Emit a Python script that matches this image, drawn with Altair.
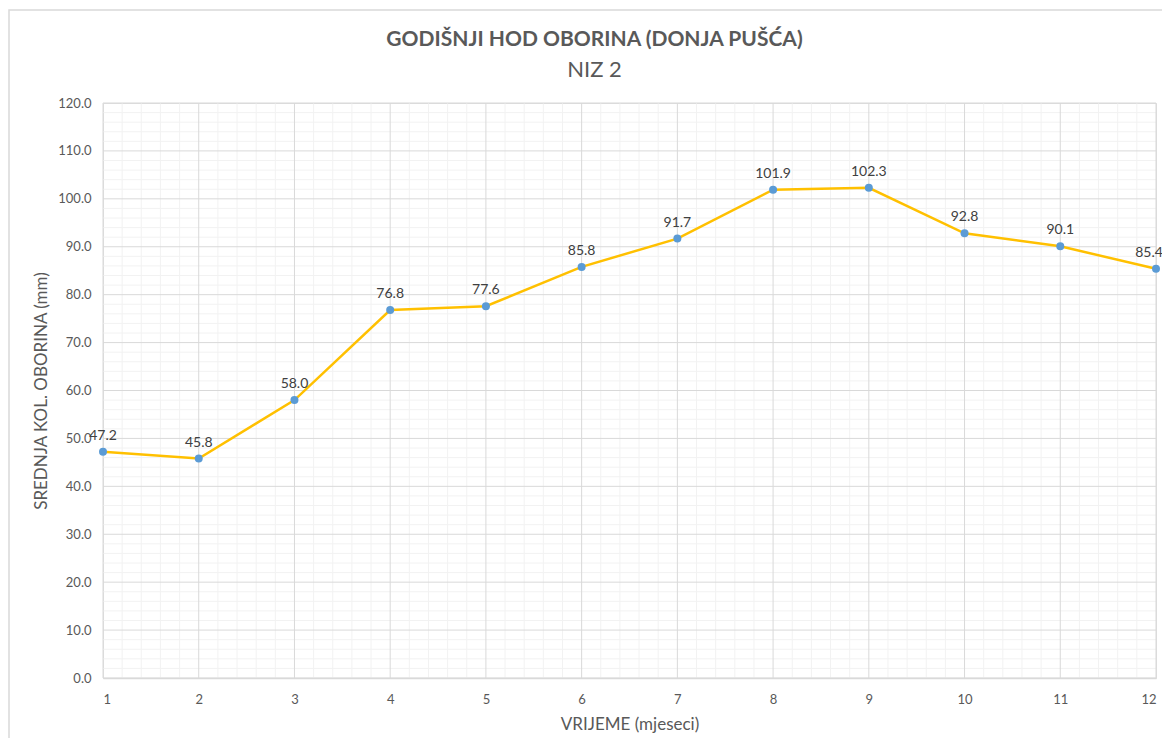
import altair as alt
import pandas as pd
import numpy as np

months = [1, 2, 3, 4, 5, 6, 7, 8, 9, 10, 11, 12]
values = [47.2, 45.8, 58.0, 76.8, 77.6, 85.8, 91.7, 101.9, 102.3, 92.8, 90.1, 85.4]
y_major = [0, 10, 20, 30, 40, 50, 60, 70, 80, 90, 100, 110, 120]
y_minor = [v for v in range(0, 121, 2) if v % 10 != 0]
x_major = months
x_minor = [round(1 + i * 0.2, 1) for i in range(56) if i % 5 != 0]
title_text = ["GODIŠNJI HOD OBORINA (DONJA PUŠĆA)"]
subtitle_text = ["NIZ 2"]

W, H = 1053, 575
FONT = "Lato"
GREY = "#595959"

df = pd.DataFrame({"m": months, "v": values})
xs = alt.Scale(domain=[1, 12], nice=False, zero=False)
ys = alt.Scale(domain=[0, 120], nice=False)

xaxis = alt.Axis(values=months, title="VRIJEME (mjeseci)", grid=False, ticks=False,
                 domainColor="#d9d9d9", domainWidth=1.5, labelPadding=15,
                 labelFontSize=13, labelColor=GREY, labelFont=FONT,
                 titleFont=FONT, titleFontSize=17, titleColor=GREY,
                 titleFontWeight="normal", titlePadding=10, format="d")
yaxis = alt.Axis(values=y_major, format=".1f", title="SREDNJA KOL. OBORINA (mm)",
                 grid=False, ticks=False, domain=False, labelPadding=12,
                 labelFontSize=13, labelColor=GREY, labelFont=FONT,
                 titleFont=FONT, titleFontSize=17, titleColor=GREY,
                 titleFontWeight="normal", titlePadding=7)

xminor = alt.Chart(pd.DataFrame({"m": x_minor})).mark_rule(color="#f2f2f2", strokeWidth=1).encode(
    x=alt.X("m:Q", scale=xs, axis=xaxis))
yminor = alt.Chart(pd.DataFrame({"v": y_minor})).mark_rule(color="#f2f2f2", strokeWidth=1).encode(
    y=alt.Y("v:Q", scale=ys, axis=yaxis))
xmajor = alt.Chart(pd.DataFrame({"m": x_major})).mark_rule(color="#d9d9d9", strokeWidth=1).encode(
    x=alt.X("m:Q", scale=xs, axis=xaxis))
ymajor = alt.Chart(pd.DataFrame({"v": y_major})).mark_rule(color="#d9d9d9", strokeWidth=1).encode(
    y=alt.Y("v:Q", scale=ys, axis=yaxis))

border = alt.Chart(pd.DataFrame({"a": [0]})).mark_rect(
    fill=None, stroke="#d9d9d9", strokeWidth=1.5, clip=False
).encode(x=alt.value(-94), x2=alt.value(W + 30), y=alt.value(-93), y2=alt.value(H + 80))

t1 = alt.Chart(pd.DataFrame({"t": title_text})).mark_text(
    font=FONT, fontSize=21, fontWeight="bold", color=GREY, align="center", baseline="middle"
).encode(text="t:N", x=alt.value(W / 2 - 35), y=alt.value(-63))
t2 = alt.Chart(pd.DataFrame({"t": subtitle_text})).mark_text(
    font=FONT, fontSize=22, color=GREY, align="center", baseline="middle"
).encode(text="t:N", x=alt.value(W / 2 - 35), y=alt.value(-33))

base = alt.Chart(df).encode(
    x=alt.X("m:Q", scale=xs, axis=xaxis),
    y=alt.Y("v:Q", scale=ys, axis=yaxis),
)

line = base.mark_line(color="#ffc000", strokeWidth=2.5)
pts = base.mark_circle(color="#5b9bd5", size=64, opacity=1)
labels = base.mark_text(baseline="bottom", dy=-9, fontSize=14, color="#404040", font=FONT).encode(
    text=alt.Text("v:Q", format=".1f")).transform_filter("datum.m < 12")
labels_last = base.mark_text(baseline="bottom", dy=-9, dx=-7, fontSize=14, color="#404040", font=FONT).encode(
    text=alt.Text("v:Q", format=".1f")).transform_filter("datum.m == 12")

chart = alt.layer(xminor, yminor, xmajor, ymajor, border, t1, t2, line, pts, labels, labels_last).properties(
    width=W, height=H,
    autosize=alt.AutoSizeParams(type="none"),
    padding={"left": 95, "top": 95, "right": 6, "bottom": 60},
).configure_view(stroke=None).configure(background="white")

chart.save("out.html", embed_options={"renderer": "svg", "actions": False})
